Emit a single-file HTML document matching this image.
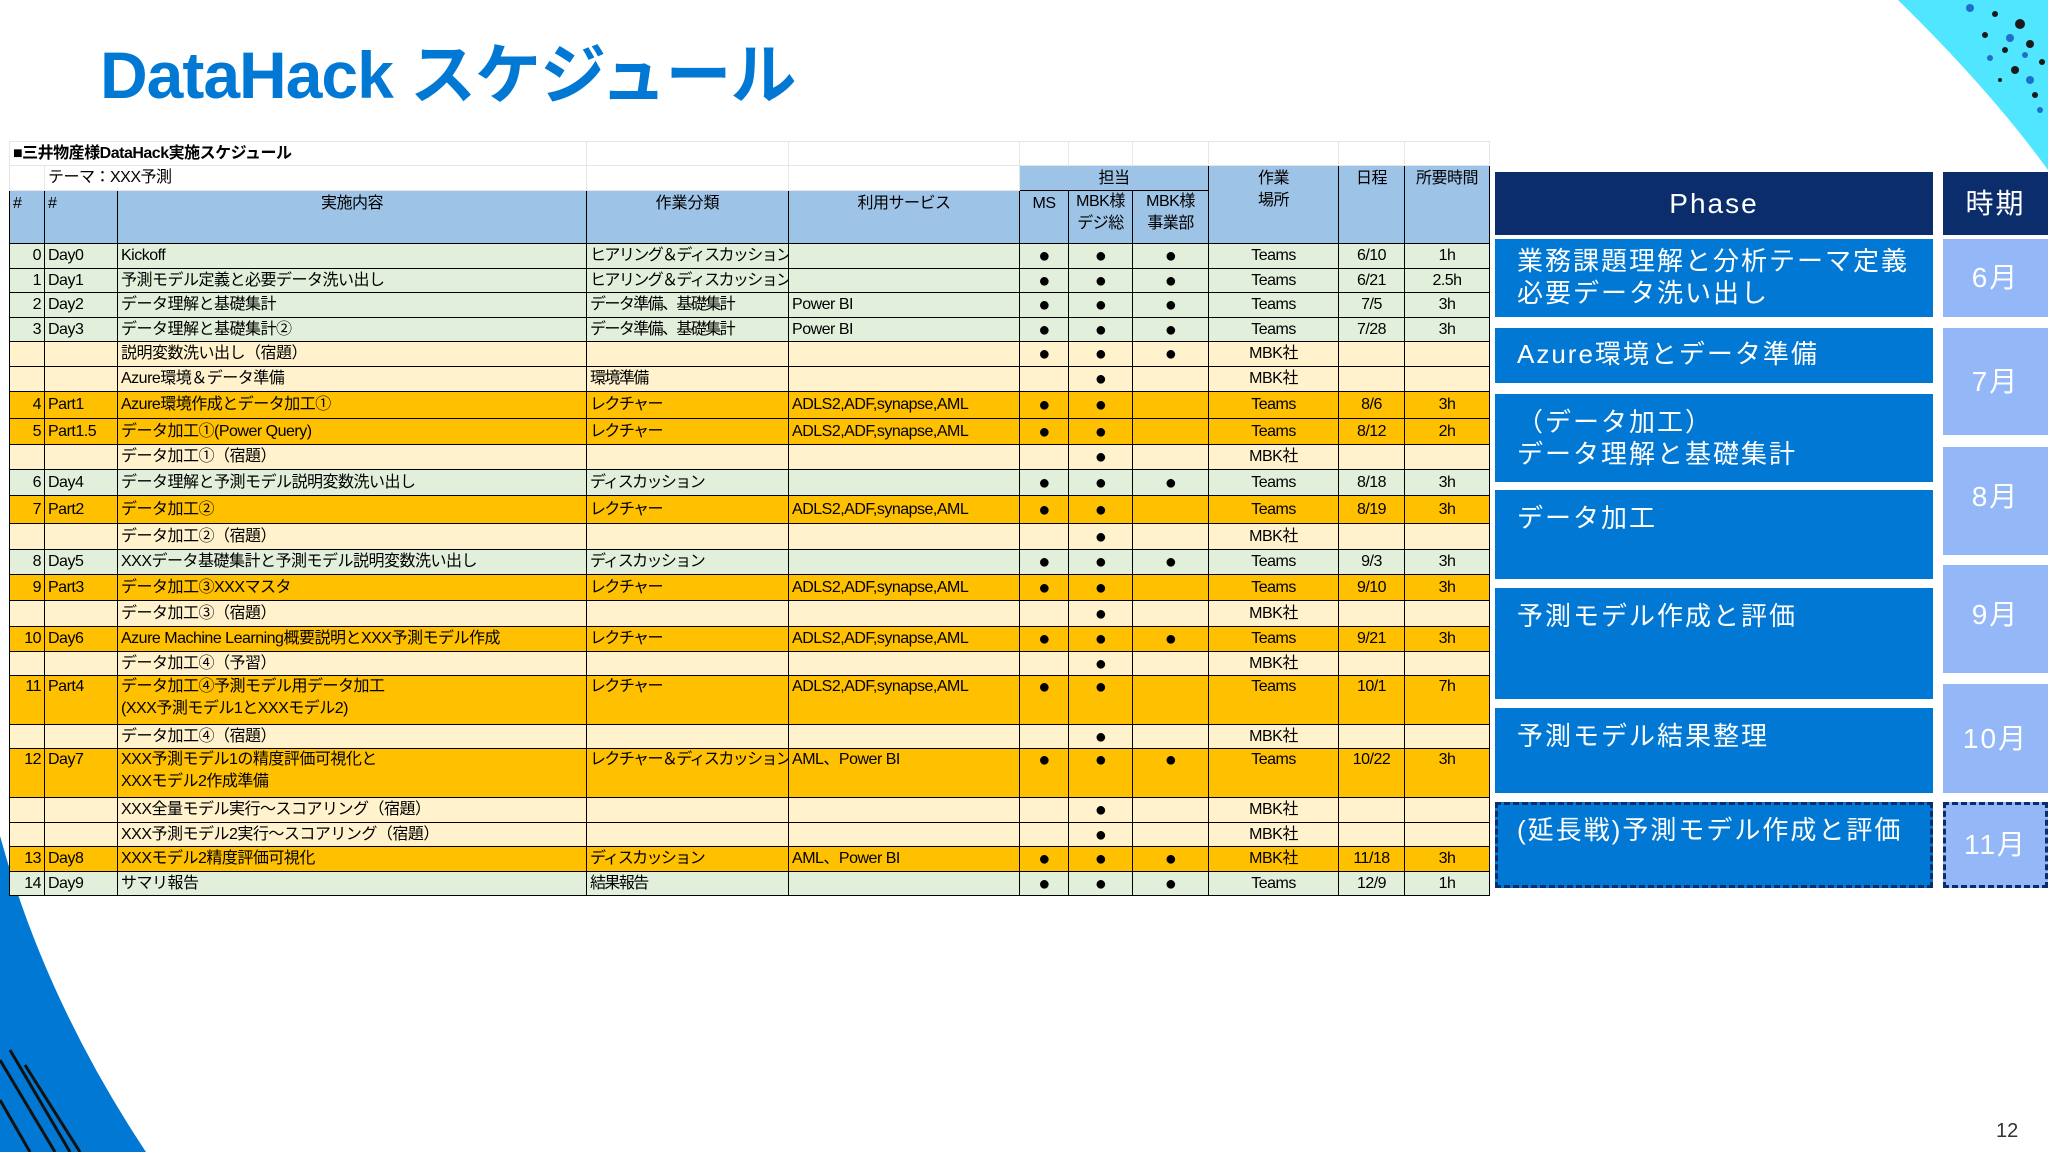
<!DOCTYPE html>
<html><head><meta charset="utf-8">
<style>
*{margin:0;padding:0;box-sizing:border-box}
body{width:2048px;height:1152px;background:#fff;position:relative;overflow:hidden;font-family:"Liberation Sans","Noto Sans CJK JP",sans-serif}
#title{position:absolute;left:100px;top:22px;font-size:66px;color:#0078d4;font-weight:bold;letter-spacing:-1px}
table{position:absolute;left:9px;top:141px;width:1480px;border-collapse:collapse;table-layout:fixed;font-size:16px;color:#000;letter-spacing:-0.5px}
td{border:1px solid #000;padding:0 3px;white-space:nowrap;overflow:hidden;line-height:22px;vertical-align:middle}
td:nth-child(4){letter-spacing:-1.6px}
td.g{border:1px solid #e6e6e6;background:#fff}
.hd td,td.hd{background:#9dc3e6;text-align:center;vertical-align:top;padding-top:2px}
.G td{background:#e2efda}.C td{background:#fff2cc}.O td{background:#ffc000}
td.r{text-align:right}td.c{text-align:center}
td.d{text-align:center;font-size:20px}
.ph{position:absolute;background:#0078d4;color:#fff;font-size:26px;letter-spacing:2px;line-height:32px;padding:6px 0 0 22px;white-space:nowrap}
.mo{position:absolute;background:#94b8f7;color:#fff;font-size:28px;text-align:center;letter-spacing:2px}
.dash{border:3px dashed #0b2d6b}
</style></head><body>
<svg style="position:absolute;left:0;top:0" width="2048" height="1152">
<path d="M1898,0 Q1990,90 2048,170 L2048,0 Z" fill="#50e6ff"/>
<g fill="#1a1a1a"><circle cx="1995" cy="14" r="3"/><circle cx="2020" cy="24" r="5"/><circle cx="2030" cy="44" r="4"/><circle cx="1985" cy="35" r="3"/><circle cx="2005" cy="50" r="3"/><circle cx="2042" cy="62" r="3"/><circle cx="2015" cy="70" r="4"/><circle cx="2035" cy="95" r="3"/><circle cx="2000" cy="80" r="2"/></g>
<g fill="#1f6fc8"><circle cx="1970" cy="8" r="4"/><circle cx="2010" cy="38" r="4"/><circle cx="1990" cy="58" r="3"/><circle cx="2025" cy="55" r="3"/><circle cx="2030" cy="80" r="4"/><circle cx="2040" cy="110" r="3"/></g>
<path d="M0,836 Q45,1000 146,1152 L0,1152 Z" fill="#0078d4"/>
<g stroke="#111" stroke-width="3"><line x1="0" y1="1060" x2="55" y2="1152"/><line x1="10" y1="1050" x2="70" y2="1152"/><line x1="25" y1="1065" x2="80" y2="1152"/><line x1="0" y1="1100" x2="30" y2="1152"/></g>
</svg>
<div id="title">DataHack スケジュール</div>
<table>
<colgroup><col style="width:35px"><col style="width:73px"><col style="width:469px"><col style="width:202px"><col style="width:231px"><col style="width:49px"><col style="width:64px"><col style="width:76px"><col style="width:130px"><col style="width:66px"><col style="width:85px"></colgroup>
<tr style="height:24px"><td class="g" colspan="3" style="font-weight:bold">■三井物産様DataHack実施スケジュール</td><td class="g"></td><td class="g"></td><td class="g"></td><td class="g"></td><td class="g"></td><td class="g"></td><td class="g"></td><td class="g"></td></tr>
<tr style="height:24px"><td class="g"></td><td class="g" colspan="2">テーマ：XXX予測</td><td class="g"></td><td class="g"></td><td class="hd" colspan="3">担当</td><td class="hd" rowspan="2">作業<br>場所</td><td class="hd" rowspan="2">日程</td><td class="hd" rowspan="2">所要時間</td></tr>
<tr class="hd" style="height:53px"><td style="text-align:left">#</td><td style="text-align:left">#</td><td>実施内容</td><td style="letter-spacing:0">作業分類</td><td>利用サービス</td><td>MS</td><td style="padding:0">MBK様<br>デジ総</td><td style="padding:0">MBK様<br>事業部</td></tr>
<tr class="G" style="height:25px"><td class="r">0</td><td>Day0</td><td>Kickoff</td><td>ヒアリング＆ディスカッション</td><td></td><td class="d">●</td><td class="d">●</td><td class="d">●</td><td class="c">Teams</td><td class="c">6/10</td><td class="c">1h</td></tr>
<tr class="G" style="height:24px"><td class="r">1</td><td>Day1</td><td>予測モデル定義と必要データ洗い出し</td><td>ヒアリング＆ディスカッション</td><td></td><td class="d">●</td><td class="d">●</td><td class="d">●</td><td class="c">Teams</td><td class="c">6/21</td><td class="c">2.5h</td></tr>
<tr class="G" style="height:25px"><td class="r">2</td><td>Day2</td><td>データ理解と基礎集計</td><td>データ準備、基礎集計</td><td>Power BI</td><td class="d">●</td><td class="d">●</td><td class="d">●</td><td class="c">Teams</td><td class="c">7/5</td><td class="c">3h</td></tr>
<tr class="G" style="height:24px"><td class="r">3</td><td>Day3</td><td>データ理解と基礎集計②</td><td>データ準備、基礎集計</td><td>Power BI</td><td class="d">●</td><td class="d">●</td><td class="d">●</td><td class="c">Teams</td><td class="c">7/28</td><td class="c">3h</td></tr>
<tr class="C" style="height:25px"><td></td><td></td><td>説明変数洗い出し（宿題）</td><td></td><td></td><td class="d">●</td><td class="d">●</td><td class="d">●</td><td class="c">MBK社</td><td></td><td></td></tr>
<tr class="C" style="height:25px"><td></td><td></td><td>Azure環境＆データ準備</td><td>環境準備</td><td></td><td></td><td class="d">●</td><td></td><td class="c">MBK社</td><td></td><td></td></tr>
<tr class="O" style="height:27px"><td class="r">4</td><td>Part1</td><td>Azure環境作成とデータ加工①</td><td>レクチャー</td><td>ADLS2,ADF,synapse,AML</td><td class="d">●</td><td class="d">●</td><td></td><td class="c">Teams</td><td class="c">8/6</td><td class="c">3h</td></tr>
<tr class="O" style="height:26px"><td class="r">5</td><td>Part1.5</td><td>データ加工①(Power Query)</td><td>レクチャー</td><td>ADLS2,ADF,synapse,AML</td><td class="d">●</td><td class="d">●</td><td></td><td class="c">Teams</td><td class="c">8/12</td><td class="c">2h</td></tr>
<tr class="C" style="height:25px"><td></td><td></td><td>データ加工①（宿題）</td><td></td><td></td><td></td><td class="d">●</td><td></td><td class="c">MBK社</td><td></td><td></td></tr>
<tr class="G" style="height:26px"><td class="r">6</td><td>Day4</td><td>データ理解と予測モデル説明変数洗い出し</td><td>ディスカッション</td><td></td><td class="d">●</td><td class="d">●</td><td class="d">●</td><td class="c">Teams</td><td class="c">8/18</td><td class="c">3h</td></tr>
<tr class="O" style="height:28px"><td class="r">7</td><td>Part2</td><td>データ加工②</td><td>レクチャー</td><td>ADLS2,ADF,synapse,AML</td><td class="d">●</td><td class="d">●</td><td></td><td class="c">Teams</td><td class="c">8/19</td><td class="c">3h</td></tr>
<tr class="C" style="height:26px"><td></td><td></td><td>データ加工②（宿題）</td><td></td><td></td><td></td><td class="d">●</td><td></td><td class="c">MBK社</td><td></td><td></td></tr>
<tr class="G" style="height:25px"><td class="r">8</td><td>Day5</td><td>XXXデータ基礎集計と予測モデル説明変数洗い出し</td><td>ディスカッション</td><td></td><td class="d">●</td><td class="d">●</td><td class="d">●</td><td class="c">Teams</td><td class="c">9/3</td><td class="c">3h</td></tr>
<tr class="O" style="height:26px"><td class="r">9</td><td>Part3</td><td>データ加工③XXXマスタ</td><td>レクチャー</td><td>ADLS2,ADF,synapse,AML</td><td class="d">●</td><td class="d">●</td><td></td><td class="c">Teams</td><td class="c">9/10</td><td class="c">3h</td></tr>
<tr class="C" style="height:26px"><td></td><td></td><td>データ加工③（宿題）</td><td></td><td></td><td></td><td class="d">●</td><td></td><td class="c">MBK社</td><td></td><td></td></tr>
<tr class="O" style="height:25px"><td class="r">10</td><td>Day6</td><td>Azure Machine Learning概要説明とXXX予測モデル作成</td><td>レクチャー</td><td>ADLS2,ADF,synapse,AML</td><td class="d">●</td><td class="d">●</td><td class="d">●</td><td class="c">Teams</td><td class="c">9/21</td><td class="c">3h</td></tr>
<tr class="C" style="height:24px"><td></td><td></td><td>データ加工④（予習）</td><td></td><td></td><td></td><td class="d">●</td><td></td><td class="c">MBK社</td><td></td><td></td></tr>
<tr class="O" style="height:49px"><td class="r" style="vertical-align:top">11</td><td style="vertical-align:top">Part4</td><td style="vertical-align:top">データ加工④予測モデル用データ加工<br>(XXX予測モデル1とXXXモデル2)</td><td style="vertical-align:top">レクチャー</td><td style="vertical-align:top">ADLS2,ADF,synapse,AML</td><td class="d" style="vertical-align:top">●</td><td class="d" style="vertical-align:top">●</td><td></td><td class="c" style="vertical-align:top">Teams</td><td class="c" style="vertical-align:top">10/1</td><td class="c" style="vertical-align:top">7h</td></tr>
<tr class="C" style="height:24px"><td></td><td></td><td>データ加工④（宿題）</td><td></td><td></td><td></td><td class="d">●</td><td></td><td class="c">MBK社</td><td></td><td></td></tr>
<tr class="O" style="height:49px"><td class="r" style="vertical-align:top">12</td><td style="vertical-align:top">Day7</td><td style="vertical-align:top">XXX予測モデル1の精度評価可視化と<br>XXXモデル2作成準備</td><td style="vertical-align:top">レクチャー＆ディスカッション</td><td style="vertical-align:top">AML、Power BI</td><td class="d" style="vertical-align:top">●</td><td class="d" style="vertical-align:top">●</td><td class="d" style="vertical-align:top">●</td><td class="c" style="vertical-align:top">Teams</td><td class="c" style="vertical-align:top">10/22</td><td class="c" style="vertical-align:top">3h</td></tr>
<tr class="C" style="height:25px"><td></td><td></td><td>XXX全量モデル実行～スコアリング（宿題）</td><td></td><td></td><td></td><td class="d">●</td><td></td><td class="c">MBK社</td><td></td><td></td></tr>
<tr class="C" style="height:24px"><td></td><td></td><td>XXX予測モデル2実行～スコアリング（宿題）</td><td></td><td></td><td></td><td class="d">●</td><td></td><td class="c">MBK社</td><td></td><td></td></tr>
<tr class="O" style="height:25px"><td class="r">13</td><td>Day8</td><td>XXXモデル2精度評価可視化</td><td>ディスカッション</td><td>AML、Power BI</td><td class="d">●</td><td class="d">●</td><td class="d">●</td><td class="c">MBK社</td><td class="c">11/18</td><td class="c">3h</td></tr>
<tr class="G" style="height:24px"><td class="r">14</td><td>Day9</td><td>サマリ報告</td><td>結果報告</td><td></td><td class="d">●</td><td class="d">●</td><td class="d">●</td><td class="c">Teams</td><td class="c">12/9</td><td class="c">1h</td></tr>
</table>

<div style="position:absolute;left:1495px;top:172px;width:438px;height:63px;background:#0b2d6b;color:#fff;font-size:28px;letter-spacing:2px;text-align:center;line-height:63px">Phase</div>
<div style="position:absolute;left:1943px;top:172px;width:105px;height:63px;background:#0b2d6b;color:#fff;font-size:28px;letter-spacing:2px;text-align:center;line-height:63px">時期</div>
<div class="ph" style="left:1495px;top:239px;width:438px;height:78px">業務課題理解と分析テーマ定義<br>必要データ洗い出し</div>
<div class="ph" style="left:1495px;top:328px;width:438px;height:55px;padding-top:10px">Azure環境とデータ準備</div>
<div class="ph" style="left:1495px;top:394px;width:438px;height:88px;padding-top:12px">（データ加工）<br>データ理解と基礎集計</div>
<div class="ph" style="left:1495px;top:490px;width:438px;height:89px;padding-top:12px">データ加工</div>
<div class="ph" style="left:1495px;top:588px;width:438px;height:111px;padding-top:12px">予測モデル作成と評価</div>
<div class="ph" style="left:1495px;top:708px;width:438px;height:85px;padding-top:12px">予測モデル結果整理</div>
<div class="ph dash" style="left:1495px;top:802px;width:438px;height:86px;padding-top:9px;padding-left:19px">(延長戦)予測モデル作成と評価</div>
<div class="mo" style="left:1943px;top:239px;width:105px;height:78px;line-height:78px">6月</div>
<div class="mo" style="left:1943px;top:328px;width:105px;height:107px;line-height:107px">7月</div>
<div class="mo" style="left:1943px;top:447px;width:105px;height:108px;line-height:100px">8月</div>
<div class="mo" style="left:1943px;top:565px;width:105px;height:108px;line-height:100px">9月</div>
<div class="mo" style="left:1943px;top:684px;width:105px;height:109px;line-height:109px">10月</div>
<div class="mo dash" style="left:1943px;top:802px;width:105px;height:86px;line-height:80px">11月</div>
<div style="position:absolute;left:1996px;top:1120px;font-size:20px;color:#333">12</div>
</body></html>
